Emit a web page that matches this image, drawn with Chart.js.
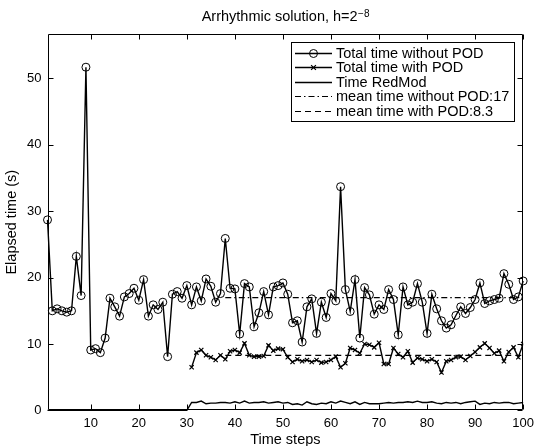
<!DOCTYPE html>
<html>
<head>
<meta charset="utf-8">
<script src="https://cdn.jsdelivr.net/npm/chart.js@4.4.1/dist/chart.umd.min.js"></script>
<style>
html,body{margin:0;padding:0;background:#fff;}
#wrap{width:539px;height:446px;}
</style>
</head>
<body>
<div id="wrap"><canvas id="c" width="539" height="446"></canvas></div>
<script>
// ---------- data ----------
const timeSteps = [1,2,3,4,5,6,7,8,9,10,11,12,13,14,15,16,17,18,19,20,21,22,23,24,25,26,27,28,29,30,
  31,32,33,34,35,36,37,38,39,40,41,42,43,44,45,46,47,48,49,50,51,52,53,54,55,56,57,58,59,60,
  61,62,63,64,65,66,67,68,69,70,71,72,73,74,75,76,77,78,79,80,81,82,83,84,85,86,87,88,89,90,
  91,92,93,94,95,96,97,98,99,100];

const totalWithoutPOD = [28.7,15.0,15.3,15.0,14.8,15.0,23.2,17.3,51.7,9.1,9.3,8.7,10.9,16.9,15.6,14.2,17.1,17.6,18.4,16.6,
  19.7,14.2,15.9,15.2,16.3,8.1,17.5,17.9,16.9,18.8,15.9,18.6,16.5,19.8,18.7,16.3,17.6,25.9,18.4,18.3,
  11.5,19.1,18.6,12.6,14.7,17.9,14.4,18.6,18.8,19.2,17.5,13.2,13.5,10.3,15.6,16.8,11.6,16.3,14.0,17.6,
  16.5,33.7,18.2,14.9,19.7,10.9,18.5,17.4,14.5,15.9,15.2,18.2,16.7,11.4,18.6,15.9,16.3,19.1,16.3,11.6,
  17.5,15.3,13.5,12.4,12.9,14.3,15.6,14.6,15.5,16.7,19.2,16.1,16.5,16.7,16.9,20.6,19.0,16.7,17.1,19.5];

const withPODSteps = [31,32,33,34,35,36,37,38,39,40,41,42,43,44,45,46,47,48,49,50,51,52,53,54,55,56,57,58,59,60,
  61,62,63,64,65,66,67,68,69,70,71,72,73,74,75,76,77,78,79,80,81,82,83,84,85,86,87,88,89,90,
  91,92,93,94,95,96,97,98,99,100];
const totalWithPOD = [6.5,8.7,9.1,8.3,8.0,7.6,8.3,7.7,8.9,9.1,8.7,10.1,8.3,8.1,8.1,8.2,9.8,9.0,9.3,9.2,
  8.0,7.3,7.7,7.4,7.6,7.3,7.6,7.2,7.3,7.6,8.1,6.5,7.1,9.4,9.1,8.6,10.0,9.9,9.5,10.2,
  7.0,7.0,9.4,8.5,8.0,8.9,7.2,7.9,7.7,7.4,7.7,7.3,5.7,7.4,7.6,8.0,8.1,7.6,8.2,8.8,
  9.5,10.1,9.4,8.6,9.0,7.4,8.8,9.5,8.0,10.0];

const redModSteps = [1,30,31,32,33,34,35,36,37,38,39,40,41,42,43,44,45,46,47,48,49,50,51,52,53,54,55,56,57,58,59,60,
  61,62,63,64,65,66,67,68,69,70,71,72,73,74,75,76,77,78,79,80,81,82,83,84,85,86,87,88,89,90,
  91,92,93,94,95,96,97,98,99,100];
const timeRedMod = [0,0,1.2,1.2,1.4,1.0,1.1,1.1,1.2,1.2,1.1,1.3,1.1,1.4,1.1,1.2,1.2,1.3,1.1,1.2,1.3,1.1,
  1.2,0.9,1.0,0.8,1.3,1.0,0.9,1.1,1.0,1.3,1.1,1.4,1.2,1.0,1.3,0.9,1.2,1.0,1.0,1.0,
  1.1,1.2,1.1,1.2,1.2,1.3,1.2,1.4,1.2,1.2,1.3,1.1,1.0,1.2,1.1,1.2,1.0,1.2,1.3,1.4,
  0.9,1.1,1.0,1.2,1.1,1.2,1.2,1.0,1.1,1.2];

const meanSteps = [38,100];
const meanWithoutPOD = [17,17];
const meanWithPOD = [8.3,8.3];

const xTickValues = [10,20,30,40,50,60,70,80,90,100];
const yTickValues = [0,10,20,30,40,50];

const seriesLabels = ['Total time without POD','Total time with POD','Time RedMod',
  'mean time without POD:17','mean time with POD:8.3'];
const titleMain = 'Arrhythmic solution, h=2';
const titleSup = '\u22128';
const xTitle = 'Time steps';
const yTitle = 'Elapsed time (s)';

// ---------- helpers ----------
const pts = (xs, ys) => xs.map((x, i) => ({x: x, y: ys[i]}));
const FONT = "'Liberation Sans', Arial, Helvetica, sans-serif";

Chart.defaults.font.family = FONT;
Chart.defaults.color = '#000';

const framePlugin = {
  id: 'frame',
  afterDatasetsDraw(chart) {
    const {ctx, chartArea: a, scales} = chart;
    ctx.save();
    ctx.strokeStyle = '#000';
    ctx.lineWidth = 1;
    const L = Math.round(a.left) + 0.5, R = Math.round(a.right) - 0.5;
    const T = Math.round(a.top) + 0.5, B = Math.round(a.bottom) - 0.5;
    ctx.beginPath();
    ctx.rect(L, T, R - L, B - T);
    const tl = 5;
    xTickValues.forEach(v => {
      const px = Math.round(scales.x.getPixelForValue(v)) + 0.5;
      ctx.moveTo(px, B); ctx.lineTo(px, B - tl);
      ctx.moveTo(px, T); ctx.lineTo(px, T + tl);
    });
    yTickValues.forEach(v => {
      const py = Math.round(scales.y.getPixelForValue(v)) + 0.5;
      ctx.moveTo(L, py); ctx.lineTo(L + tl, py);
      ctx.moveTo(R, py); ctx.lineTo(R - tl, py);
    });
    ctx.stroke();
    ctx.restore();
  }
};

const titlePlugin = {
  id: 'suptitle',
  afterDraw(chart) {
    const {ctx, chartArea: a} = chart;
    ctx.save();
    ctx.fillStyle = '#000';
    ctx.textBaseline = 'alphabetic';
    ctx.textAlign = 'left';
    const f1 = '14.5px ' + FONT, f2 = '10px ' + FONT;
    ctx.font = f1; const w1 = ctx.measureText(titleMain).width;
    ctx.font = f2; const w2 = ctx.measureText(titleSup).width;
    const cx = (a.left + a.right) / 2;
    const x0 = cx - (w1 + w2) / 2;
    ctx.font = f1; ctx.fillText(titleMain, x0, 21);
    ctx.font = f2; ctx.fillText(titleSup, x0 + w1 + 0.5, 16.5);
    ctx.restore();
  }
};

const legendPlugin = {
  id: 'boxlegend',
  afterDraw(chart) {
    const {ctx} = chart;
    const box = {l: 291, t: 42, r: 514, b: 121};
    ctx.save();
    ctx.fillStyle = '#fff';
    ctx.fillRect(box.l, box.t, box.r - box.l, box.b - box.t);
    ctx.strokeStyle = '#000';
    ctx.lineWidth = 1;
    ctx.strokeRect(box.l + 0.5, box.t + 0.5, box.r - box.l, box.b - box.t);
    const rowH = 14.5, y0 = 52.5, x1 = 295, x2 = 332, tx = 336;
    chart.data.datasets.forEach((ds, i) => {
      const y = Math.round(y0 + i * rowH) + 0.5;
      ctx.strokeStyle = '#000';
      ctx.lineWidth = ds.borderWidth || 1;
      ctx.setLineDash(ds.borderDash || []);
      ctx.beginPath(); ctx.moveTo(x1, y); ctx.lineTo(x2, y); ctx.stroke();
      ctx.setLineDash([]);
      const mx = (x1 + x2) / 2;
      if (ds.pointRadius > 0) {
        ctx.lineWidth = ds.pointBorderWidth || 1;
        ctx.beginPath();
        if (ds.pointStyle === 'circle') {
          ctx.arc(mx, y, ds.pointRadius, 0, Math.PI * 2);
        } else if (ds.pointStyle === 'crossRot') {
          const r = ds.pointRadius * 0.8;
          ctx.moveTo(mx - r, y - r); ctx.lineTo(mx + r, y + r);
          ctx.moveTo(mx - r, y + r); ctx.lineTo(mx + r, y - r);
        }
        ctx.stroke();
      }
      ctx.fillStyle = '#000';
      ctx.font = '14.5px ' + FONT;
      ctx.textBaseline = 'middle';
      ctx.textAlign = 'left';
      ctx.fillText(ds.label, tx, y + 0.5);
    });
    ctx.restore();
  }
};

new Chart(document.getElementById('c'), {
  type: 'line',
  data: {
    datasets: [
      {label: seriesLabels[0], data: pts(timeSteps, totalWithoutPOD), borderColor: '#000', borderWidth: 1.4,
       pointStyle: 'circle', pointRadius: 4, pointBorderWidth: 1, pointBorderColor: '#000',
       pointBackgroundColor: 'rgba(0,0,0,0)', clip: false, tension: 0},
      {label: seriesLabels[1], data: pts(withPODSteps, totalWithPOD), borderColor: '#000', borderWidth: 1.4,
       pointStyle: 'crossRot', pointRadius: 3, pointBorderWidth: 1.2, pointBorderColor: '#000',
       pointBackgroundColor: 'rgba(0,0,0,0)', tension: 0},
      {label: seriesLabels[2], data: pts(redModSteps, timeRedMod), borderColor: '#000', borderWidth: 1.4,
       pointRadius: 0, clip: false, tension: 0},
      {label: seriesLabels[3], data: pts(meanSteps, meanWithoutPOD), borderColor: '#000', borderWidth: 1.2,
       borderDash: [6, 3, 1.5, 3], pointRadius: 0, tension: 0},
      {label: seriesLabels[4], data: pts(meanSteps, meanWithPOD), borderColor: '#000', borderWidth: 1.2,
       borderDash: [6, 4], pointRadius: 0, tension: 0}
    ]
  },
  options: {
    responsive: false,
    animation: false,
    devicePixelRatio: 1,
    layout: {padding: {top: 34, right: 13.5, left: 0, bottom: 0}},
    plugins: {legend: {display: false}, title: {display: false}, tooltip: {enabled: false}},
    scales: {
      x: {
        type: 'linear', min: 1, max: 100, position: 'bottom',
        grid: {display: false, drawTicks: false}, border: {display: false},
        ticks: {font: {size: 13}, color: '#000', padding: 5, maxRotation: 0},
        afterBuildTicks: s => { s.ticks = xTickValues.map(v => ({value: v})); },
        afterFit: s => { s.height = 35.6; },
        title: {display: true, text: xTitle, font: {size: 14.5, lineHeight: 0.8}, color: '#000', padding: 0}
      },
      y: {
        type: 'linear', min: 0, max: 56.7, position: 'left',
        grid: {display: false, drawTicks: false}, border: {display: false},
        ticks: {font: {size: 13}, color: '#000', padding: 6},
        afterBuildTicks: s => { s.ticks = yTickValues.map(v => ({value: v})); },
        afterFit: s => { s.width = 47.5; },
        title: {display: true, text: yTitle, font: {size: 14.5, lineHeight: 1}, color: '#000', padding: {top: 4.5, bottom: 0}}
      }
    }
  },
  plugins: [framePlugin, titlePlugin, legendPlugin]
});
</script>
</body>
</html>
